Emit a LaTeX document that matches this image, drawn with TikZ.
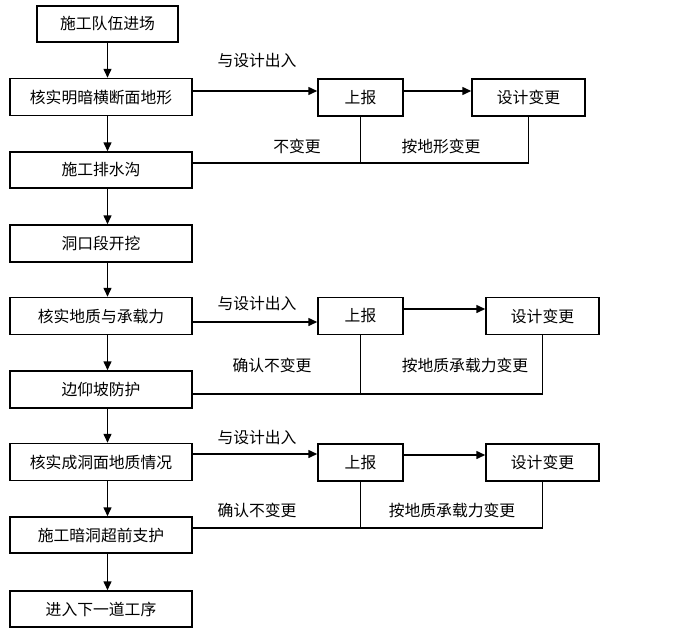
\documentclass[tikz,border=0pt]{standalone}
\usepackage{fontspec}
\usepackage{xcolor}
\usepackage{tikz}
\usetikzlibrary{calc}
\usetikzlibrary{arrows.meta}
\setmainfont{Noto Sans CJK SC}
\tikzstyle{stepbox} = [draw=black, fill=white, line width=1.5pt,
rectangle, minimum width=182pt, minimum height=37pt, inner sep=0pt,
font=\fontsize{15.8}{18}\selectfont]
\tikzstyle{reportbox} = [stepbox, minimum width=85pt]
\tikzstyle{changebox} = [stepbox, minimum width=113pt]
\tikzstyle{flowarrow} = [line width=1.5pt, -{Triangle[length=9pt,width=8pt]}]
\tikzstyle{loopline} = [line width=1.5pt]
\tikzstyle{note} = [inner sep=0pt, font=\fontsize{15.8}{18}\selectfont]

\begin{document}
\begin{tikzpicture}[x=1pt,y=-1pt]
        \useasboundingbox (0,0) rectangle (680,632);
        \node [stepbox, minimum width=141pt, minimum height=36pt] (b1) at (107.5,24) {施工队伍进场};
        \node [stepbox] (b2) at (101,97) {核实明暗横断面地形};
        \node [stepbox, minimum height=36pt] (b3) at (101,170) {施工排水沟};
        \node [stepbox] (b4) at (101,243.5) {洞口段开挖};
        \node [stepbox] (b5) at (101,316) {核实地质与承载力};
        \node [stepbox] (b6) at (101,389.5) {边仰坡防护};
        \node [stepbox] (b7) at (101,462) {核实成洞面地质情况};
        \node [stepbox, minimum height=36pt] (b8) at (101,535) {施工暗洞超前支护};
        \node [stepbox, minimum height=36pt] (b9) at (101,609) {进入下一道工序};

        \node [reportbox] (r1) at (360.5,97.5) {上报};
        \node [changebox] (d1) at (528.5,97.5) {设计变更};
        \node [reportbox] (r2) at (360.5,316) {上报};
        \node [changebox] (d2) at (542.5,316) {设计变更};
        \node [reportbox] (r3) at (360.5,462.5) {上报};
        \node [changebox] (d3) at (542.5,462.5) {设计变更};

        \foreach \a/\b in {b1/b2, b2/b3, b3/b4, b4/b5, b5/b6, b6/b7, b7/b8, b8/b9}
            \draw [flowarrow] (\a.south -| b1.south) -- (\b.north -| b1.south);

        \draw [flowarrow] ([yshift=6pt]b2.east) -- ([yshift=6pt]b2.east -| r1.west);
        \draw [flowarrow] ([yshift=6.5pt]r1.east) -- ([yshift=6.5pt]r1.east -| d1.west);
        \draw [flowarrow] ([yshift=-6pt]b5.east) -- ([yshift=-6pt]b5.east -| r2.west);
        \draw [flowarrow] ([yshift=7pt]r2.east) -- ([yshift=7pt]r2.east -| d2.west);
        \draw [flowarrow] ([yshift=8pt]b7.east) -- ([yshift=8pt]b7.east -| r3.west);
        \draw [flowarrow] ([yshift=7.5pt]r3.east) -- ([yshift=7.5pt]r3.east -| d3.west);

        \coordinate (m1) at ([yshift=7pt]b3.east);
        \coordinate (m2) at ([yshift=-4.5pt]b6.east);
        \coordinate (m3) at ([yshift=7pt]b8.east);
        \draw [loopline] (m1) -| (d1.south);
        \draw [loopline] (r1.south) -- (r1.south |- m1);
        \draw [loopline] (m2) -| (d2.south);
        \draw [loopline] (r2.south) -- (r2.south |- m2);
        \draw [loopline] (m3) -| (d3.south);
        \draw [loopline] (r3.south) -- (r3.south |- m3);

        \node [note] (t1) at (257,61) {与设计出入};
        \node [note] (t2) at (297,146) {不变更};
        \node [note] (t3) at (441,146) {按地形变更};
        \node [note] (t4) at (257,304) {与设计出入};
        \node [note] (t5) at (272,365) {确认不变更};
        \node [note] (t6) at (465,365) {按地质承载力变更};
        \node [note] (t7) at (257,438) {与设计出入};
        \node [note] (t8) at (257,510) {确认不变更};
        \node [note] (t9) at (452,510) {按地质承载力变更};
    \end{tikzpicture}
\end{document}
